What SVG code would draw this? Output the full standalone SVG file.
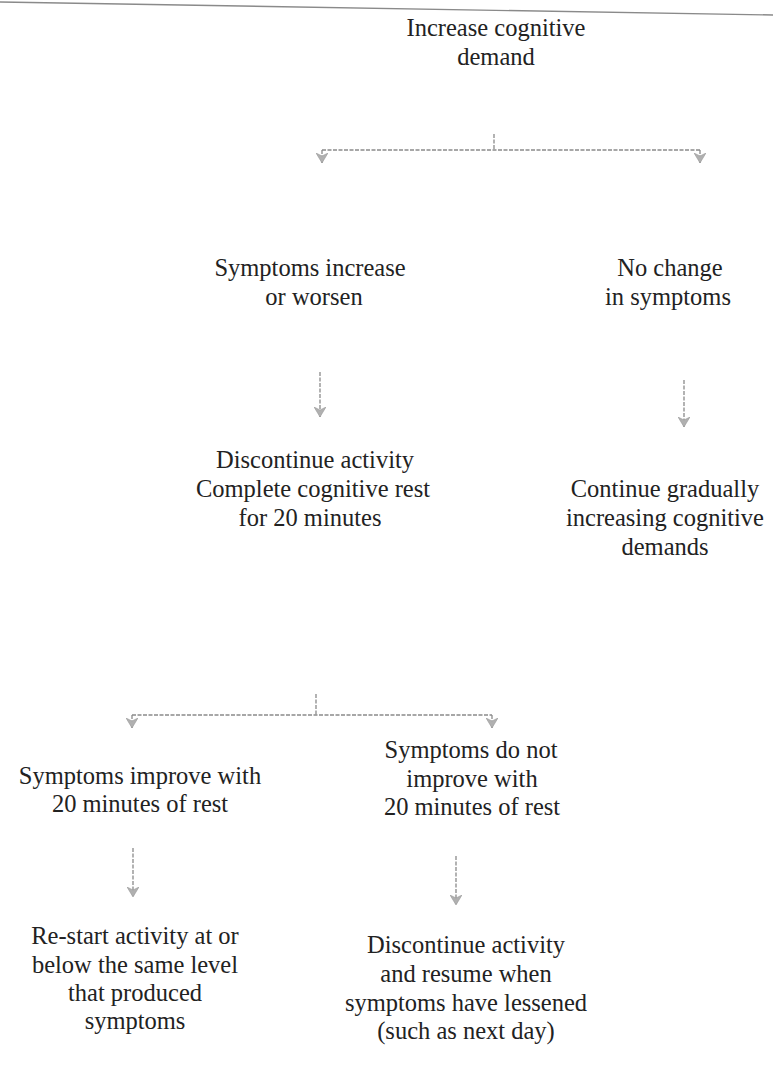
<svg xmlns="http://www.w3.org/2000/svg" width="773" height="1066" viewBox="0 0 773 1066">
<defs>
<style>
.t text{font-family:'Liberation Serif','DejaVu Serif',serif;font-size:24.5px;fill:#222;text-anchor:middle}
.c{fill:none;stroke:#8a8a8a;stroke-width:1.3;stroke-dasharray:4 1.5}
</style>
<marker id="ah" viewBox="0 0 12 12" refX="10" refY="6" markerWidth="12" markerHeight="12" markerUnits="userSpaceOnUse" orient="auto">
<path d="M0,0 L10,6 L0,12 L3,6 Z" fill="#b0b0b0" stroke="#999" stroke-width="0.6"/>
</marker>
</defs>
<rect width="773" height="1066" fill="#fff"/>
<line x1="0" y1="2" x2="773" y2="15" stroke="#8a8a8a" stroke-width="1.4"/>
<g id="connectors">
<path class="c" d="M494,134 V150"/>
<path class="c" d="M322,150 H700"/>
<path class="c" d="M322,150 V163" marker-end="url(#ah)"/>
<path class="c" d="M700,150 V163" marker-end="url(#ah)"/>
<path class="c" d="M320,372 V417" marker-end="url(#ah)"/>
<path class="c" d="M684,380 V427" marker-end="url(#ah)"/>
<path class="c" d="M316,694 V715"/>
<path class="c" d="M132,715 H492"/>
<path class="c" d="M132,715 V728" marker-end="url(#ah)"/>
<path class="c" d="M492,715 V728" marker-end="url(#ah)"/>
<path class="c" d="M133,848 V897" marker-end="url(#ah)"/>
<path class="c" d="M456,856 V905" marker-end="url(#ah)"/>
</g>
<g class="t">
<g id="n1"><text x="496" y="36">Increase cognitive</text><text x="496" y="65">demand</text></g>
<g id="n2"><text x="310" y="276">Symptoms increase</text><text x="314" y="305">or worsen</text></g>
<g id="n3"><text x="670" y="276">No change</text><text x="668" y="305">in symptoms</text></g>
<g id="n4"><text x="315" y="468">Discontinue activity</text><text x="313" y="497">Complete cognitive rest</text><text x="310" y="526">for 20 minutes</text></g>
<g id="n5"><text x="665" y="497">Continue gradually</text><text x="665" y="526">increasing cognitive</text><text x="665" y="555">demands</text></g>
<g id="n6"><text x="140" y="784">Symptoms improve with</text><text x="140" y="812">20 minutes of rest</text></g>
<g id="n7"><text x="471" y="758">Symptoms do not</text><text x="472" y="787">improve with</text><text x="472" y="815">20 minutes of rest</text></g>
<g id="n8"><text x="135" y="944">Re-start activity at or</text><text x="135" y="973">below the same level</text><text x="135" y="1001">that produced</text><text x="135" y="1029">symptoms</text></g>
<g id="n9"><text x="466" y="953">Discontinue activity</text><text x="466" y="982">and resume when</text><text x="466" y="1011">symptoms have lessened</text><text x="466" y="1039">(such as next day)</text></g>
</g>
</svg>
